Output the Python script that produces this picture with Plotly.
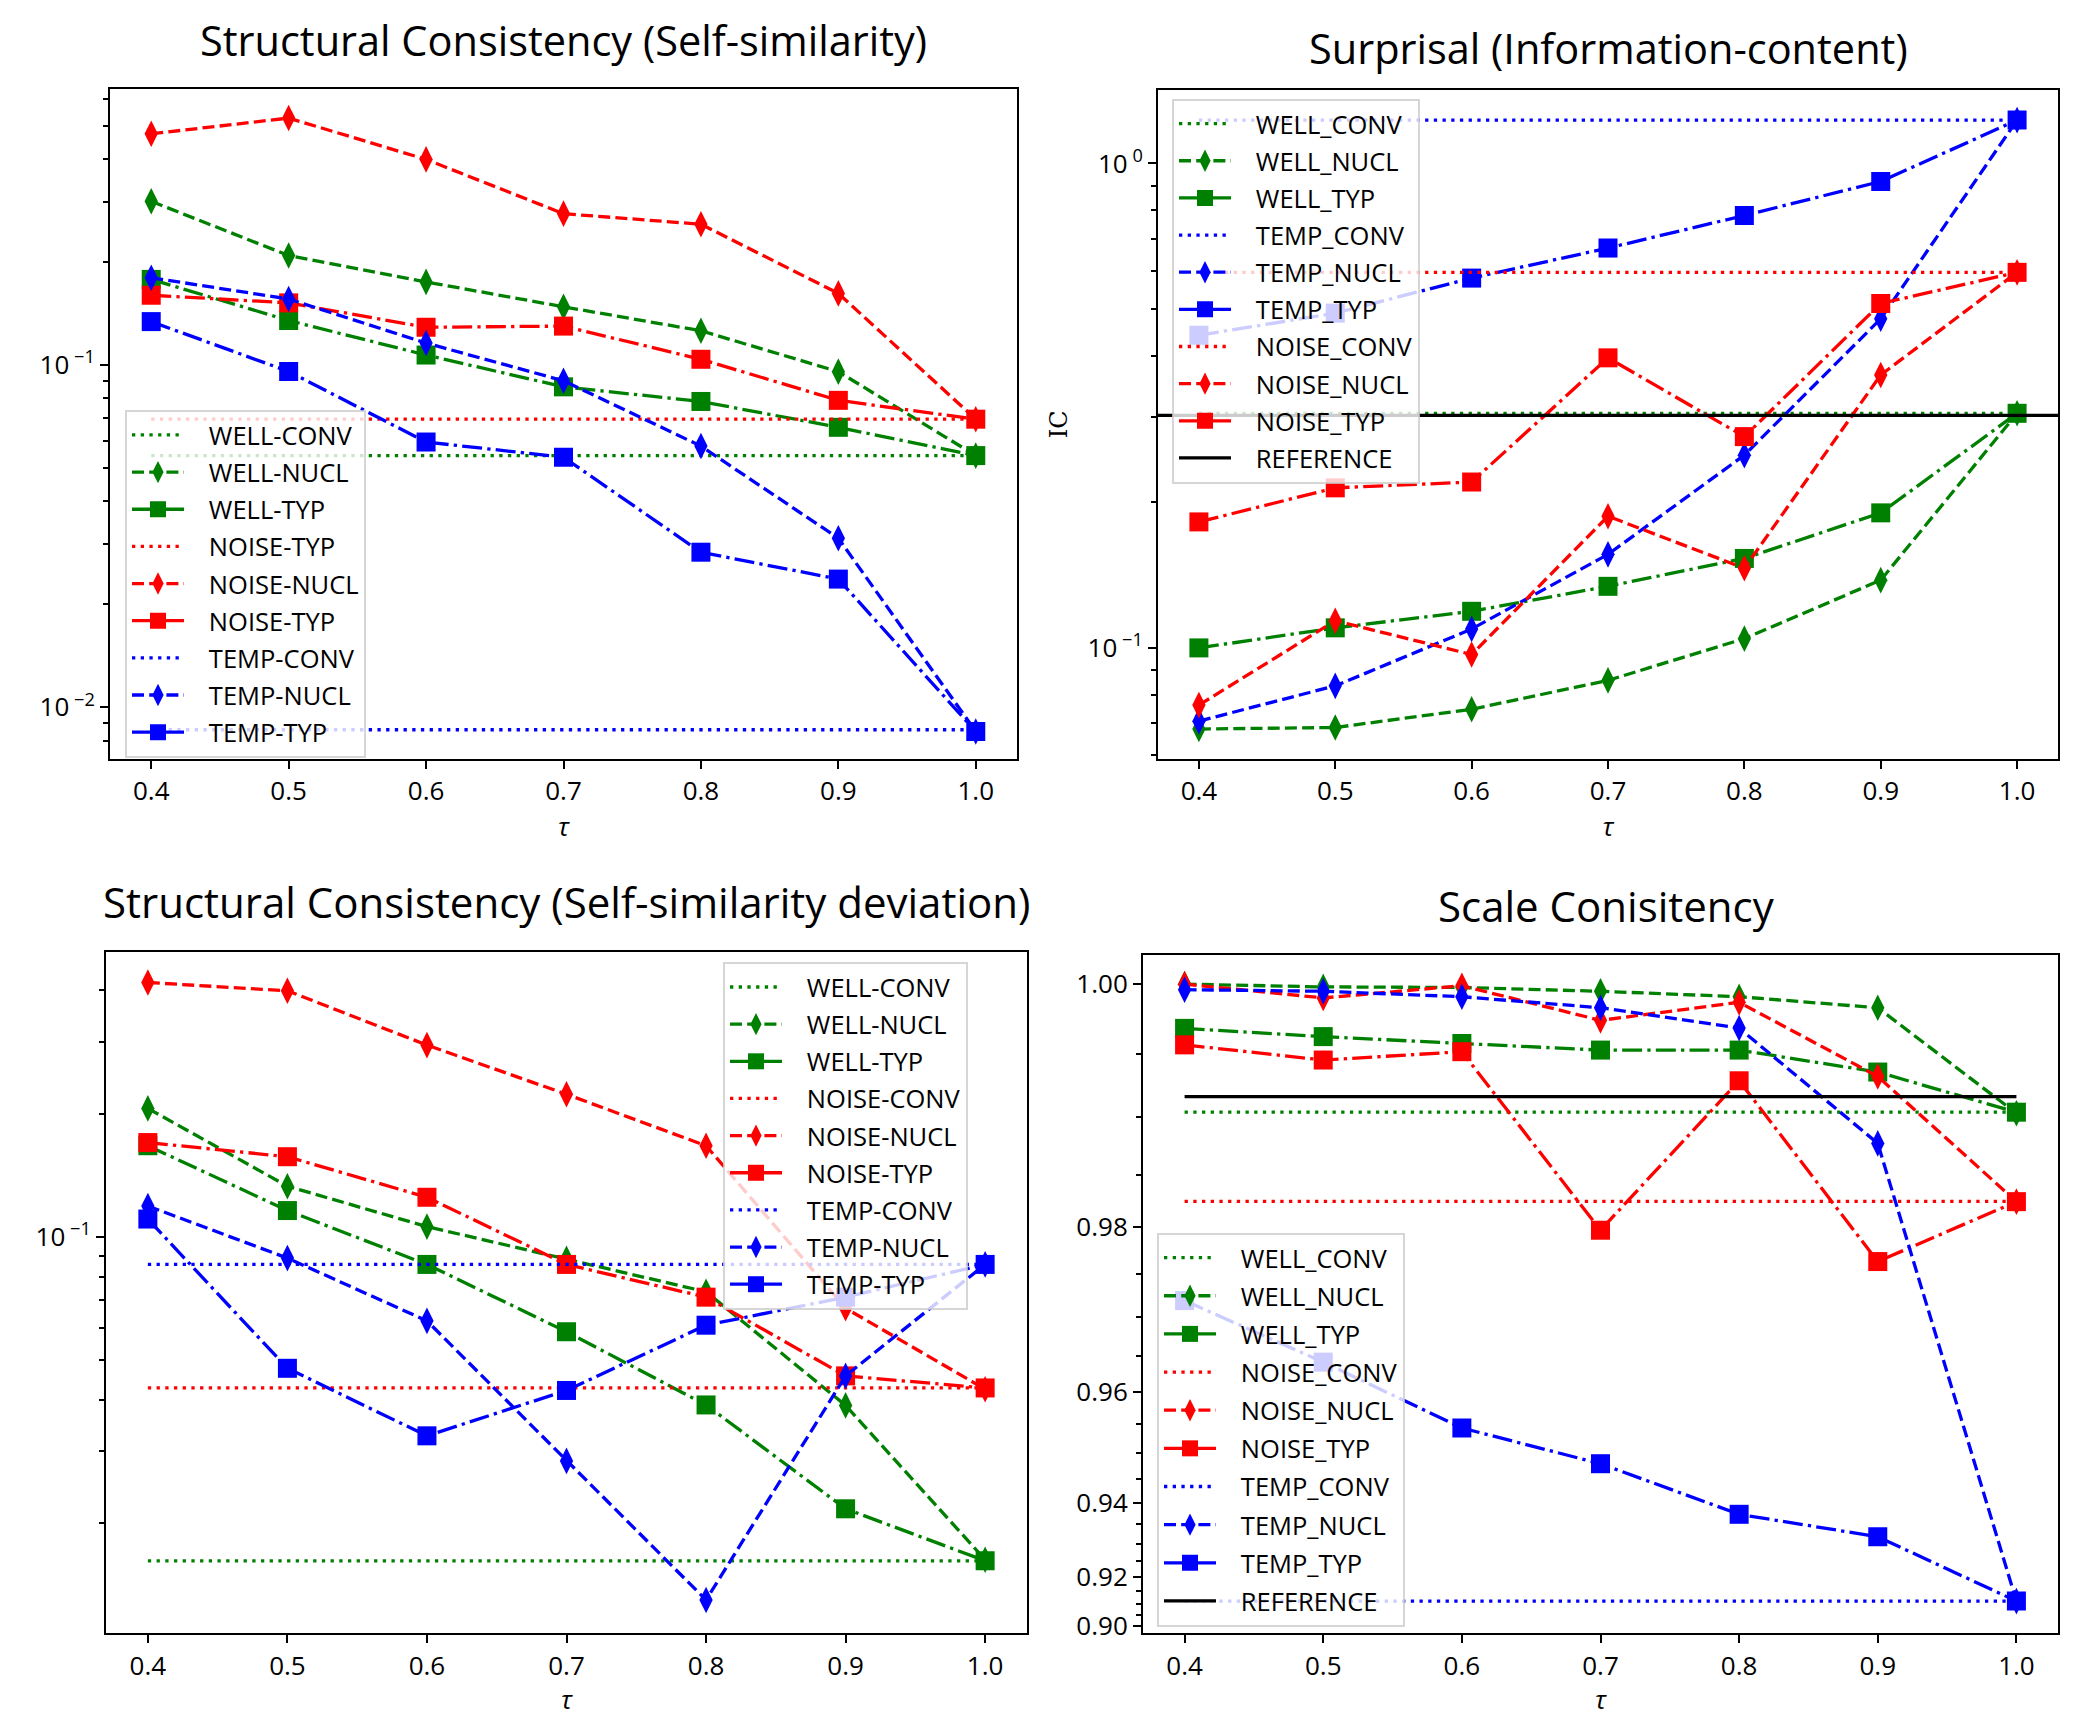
import plotly.graph_objects as go

# ---------------- data ----------------
TAU = [0.4, 0.5, 0.6, 0.7, 0.8, 0.9, 1.0]
TAU_LABELS = ["0.4", "0.5", "0.6", "0.7", "0.8", "0.9", "1.0"]

# Panel 1: Structural Consistency (Self-similarity)
tl_well_conv = 0.0544
tl_well_nucl = [0.301, 0.209, 0.175, 0.148, 0.126, 0.0957, 0.0544]
tl_well_typ = [0.178, 0.135, 0.107, 0.0864, 0.0783, 0.0658, 0.0544]
tl_noise_conv = 0.0695
tl_noise_nucl = [0.474, 0.527, 0.399, 0.277, 0.258, 0.162, 0.0695]
tl_noise_typ = [0.160, 0.152, 0.129, 0.130, 0.104, 0.0789, 0.0695]
tl_temp_conv = 0.0086
tl_temp_nucl = [0.180, 0.156, 0.116, 0.090, 0.058, 0.0312, 0.0085]
tl_temp_typ = [0.134, 0.0958, 0.0596, 0.0538, 0.0284, 0.0237, 0.0085]

# Panel 2: Surprisal (Information-content)
tr_well_conv = 0.305
tr_well_nucl = [0.068, 0.0685, 0.0747, 0.0857, 0.1045, 0.138, 0.305]
tr_well_typ = [0.100, 0.110, 0.119, 0.134, 0.153, 0.190, 0.305]
tr_temp_conv = 1.229
tr_temp_nucl = [0.0706, 0.0835, 0.1094, 0.156, 0.250, 0.478, 1.229]
tr_temp_typ = [0.442, 0.491, 0.580, 0.669, 0.781, 0.918, 1.229]
tr_noise_conv = 0.596
tr_noise_nucl = [0.0762, 0.1138, 0.0969, 0.187, 0.146, 0.366, 0.596]
tr_noise_typ = [0.182, 0.214, 0.220, 0.397, 0.273, 0.514, 0.596]
tr_reference = 0.302

# Panel 3: Structural Consistency (Self-similarity deviation)
bl_well_conv = 0.0162
bl_well_nucl = [0.206, 0.133, 0.106, 0.0884, 0.0735, 0.0388, 0.0163]
bl_well_typ = [0.167, 0.116, 0.0857, 0.0587, 0.0389, 0.0217, 0.0162]
bl_noise_conv = 0.0428
bl_noise_nucl = [0.418, 0.399, 0.294, 0.223, 0.167, 0.067, 0.0425]
bl_noise_typ = [0.170, 0.157, 0.125, 0.0857, 0.0713, 0.0458, 0.0428]
bl_temp_conv = 0.0857
bl_temp_nucl = [0.119, 0.0888, 0.0624, 0.0284, 0.0130, 0.0458, 0.0857]
bl_temp_typ = [0.1106, 0.0478, 0.0327, 0.0422, 0.0609, 0.0713, 0.0857]

# Panel 4: Scale Conisitency
br_well_conv = 0.99042
br_well_nucl = [1.000, 0.99981, 0.99977, 0.99951, 0.99913, 0.99836, 0.99032]
br_well_typ = [0.99688, 0.99628, 0.99577, 0.99528, 0.99528, 0.99361, 0.99041]
br_noise_conv = 0.98250
br_noise_nucl = [1.000, 0.99905, 0.99989, 0.99746, 0.99874, 0.99327, 0.98248]
br_noise_typ = [0.99567, 0.99453, 0.99516, 0.97967, 0.99293, 0.97640, 0.98248]
br_temp_conv = 0.9111
br_temp_nucl = [0.99962, 0.99951, 0.99913, 0.99836, 0.99690, 0.98778, 0.91112]
br_temp_typ = [0.97201, 0.96422, 0.95430, 0.94797, 0.93736, 0.93180, 0.91112]
br_reference = 0.99168

BR_TICKS = [0.90, 0.92, 0.94, 0.96, 0.98, 1.00]
BR_TICK_LABELS = ["0.90", "0.92", "0.94", "0.96", "0.98", "1.00"]
BR_MINOR = [0.905, 0.91, 0.915, 0.925, 0.93, 0.935, 0.945, 0.95, 0.955,
            0.965, 0.97, 0.975, 0.985, 0.99, 0.995]

# ---------------- styling ----------------
FONT = "Open Sans"
GREEN, RED, BLUE = "#008000", "#ff0000", "#0000ff"
LW = 3.3
DASH = {"conv": "3.3px,5.4px", "nucl": "12px,5.2px", "typ": "20px,5.2px,3.3px,5.2px", "ref": "solid"}
SYM = {"nucl": "diamond-tall", "typ": "square"}
MSIZE = {"nucl": 19, "typ": 19}
LEGEND_PAD = "\u00a0\u00a0\u00a0"   # gap between legend handle and label


def power_scale(v):
    # the reference's "Scale Consistency" axis uses a y**20 scale
    return v ** 20


fig = go.Figure()
counter = [0]


def add(ax, legend, name, y, color, kind, xs=None, transform=None):
    counter[0] += 1
    xs = TAU if xs is None else xs
    if not isinstance(y, (list, tuple)):
        y = [y] * len(xs)
    if transform:
        y = [transform(v) for v in y]
    mode = "lines+markers" if kind in ("nucl", "typ") else "lines"
    tr = dict(
        x=xs, y=y, name=LEGEND_PAD + name, mode=mode,
        line=dict(color=color, width=LW, dash=DASH[kind]),
        xaxis="x" + ax, yaxis="y" + ax,
        legend=legend, legendgroup="g%d" % counter[0],
        hoverinfo="skip",
    )
    if mode == "lines+markers":
        tr["marker"] = dict(symbol=SYM[kind], size=MSIZE[kind], color=color,
                            line=dict(width=0))
    fig.add_trace(go.Scatter(**tr))


# Panel 1
for name, y, c, k in [
    ("WELL-CONV", tl_well_conv, GREEN, "conv"),
    ("WELL-NUCL", tl_well_nucl, GREEN, "nucl"),
    ("WELL-TYP", tl_well_typ, GREEN, "typ"),
    ("NOISE-TYP", tl_noise_conv, RED, "conv"),
    ("NOISE-NUCL", tl_noise_nucl, RED, "nucl"),
    ("NOISE-TYP", tl_noise_typ, RED, "typ"),
    ("TEMP-CONV", tl_temp_conv, BLUE, "conv"),
    ("TEMP-NUCL", tl_temp_nucl, BLUE, "nucl"),
    ("TEMP-TYP", tl_temp_typ, BLUE, "typ"),
]:
    add("", "legend", name, y, c, k)

X_RANGE = [0.37, 1.03]

# Panel 2
for name, y, c, k in [
    ("WELL_CONV", tr_well_conv, GREEN, "conv"),
    ("WELL_NUCL", tr_well_nucl, GREEN, "nucl"),
    ("WELL_TYP", tr_well_typ, GREEN, "typ"),
    ("TEMP_CONV", tr_temp_conv, BLUE, "conv"),
    ("TEMP_NUCL", tr_temp_nucl, BLUE, "nucl"),
    ("TEMP_TYP", tr_temp_typ, BLUE, "typ"),
    ("NOISE_CONV", tr_noise_conv, RED, "conv"),
    ("NOISE_NUCL", tr_noise_nucl, RED, "nucl"),
    ("NOISE_TYP", tr_noise_typ, RED, "typ"),
]:
    add("2", "legend2", name, y, c, k)
add("2", "legend2", "REFERENCE", tr_reference, "black", "ref", xs=X_RANGE)

# Panel 3
for name, y, c, k in [
    ("WELL-CONV", bl_well_conv, GREEN, "conv"),
    ("WELL-NUCL", bl_well_nucl, GREEN, "nucl"),
    ("WELL-TYP", bl_well_typ, GREEN, "typ"),
    ("NOISE-CONV", bl_noise_conv, RED, "conv"),
    ("NOISE-NUCL", bl_noise_nucl, RED, "nucl"),
    ("NOISE-TYP", bl_noise_typ, RED, "typ"),
    ("TEMP-CONV", bl_temp_conv, BLUE, "conv"),
    ("TEMP-NUCL", bl_temp_nucl, BLUE, "nucl"),
    ("TEMP-TYP", bl_temp_typ, BLUE, "typ"),
]:
    add("3", "legend3", name, y, c, k)

# Panel 4
for name, y, c, k in [
    ("WELL_CONV", br_well_conv, GREEN, "conv"),
    ("WELL_NUCL", br_well_nucl, GREEN, "nucl"),
    ("WELL_TYP", br_well_typ, GREEN, "typ"),
    ("NOISE_CONV", br_noise_conv, RED, "conv"),
    ("NOISE_NUCL", br_noise_nucl, RED, "nucl"),
    ("NOISE_TYP", br_noise_typ, RED, "typ"),
    ("TEMP_CONV", br_temp_conv, BLUE, "conv"),
    ("TEMP_NUCL", br_temp_nucl, BLUE, "nucl"),
    ("TEMP_TYP", br_temp_typ, BLUE, "typ"),
]:
    add("4", "legend4", name, y, c, k, transform=power_scale)
add("4", "legend4", "REFERENCE", br_reference, "black", "ref", transform=power_scale)

# ---------------- layout ----------------
# the html page puts the figure 8px from the top-left corner of the window
OFF = 8
W, H = 2082 - OFF, 1717 - OFF


def px(x):
    return (x - OFF) / W


def py(y):
    return 1 - (y - OFF) / H


tick_font = dict(family=FONT, size=26, color="black")


def xaxis(domain, anchor):
    return dict(
        domain=domain, anchor=anchor, range=X_RANGE,
        tickmode="array", tickvals=TAU, ticktext=TAU_LABELS,
        ticks="outside", ticklen=8, tickwidth=2, tickcolor="black",
        showline=True, linecolor="black", linewidth=2, mirror=True,
        showgrid=False, zeroline=False, tickfont=tick_font,
        title=dict(text="<i>τ</i>", font=dict(family=FONT, size=26, color="black"), standoff=2),
    )


def logminor(vals):
    return dict(tickmode="array", tickvals=vals, ticks="outside", ticklen=5,
                tickwidth=1.5, tickcolor="black", showgrid=False)


def yaxis(domain, anchor, **kw):
    d = dict(
        domain=domain, anchor=anchor,
        ticks="outside", ticklen=8, tickwidth=2, tickcolor="black",
        showline=True, linecolor="black", linewidth=2, mirror=True,
        showgrid=False, zeroline=False, tickfont=tick_font,
    )
    d.update(kw)
    return d


def pow10(e):
    return "10<sup> −%d</sup>" % -e if e < 0 else "10<sup> %d</sup>" % e


dec = [2, 3, 4, 5, 6, 7, 8, 9]
fig.update_layout(
    width=W, height=H, margin=dict(l=0, r=0, t=0, b=0),
    paper_bgcolor="white", plot_bgcolor="white",
    font=dict(family=FONT, color="black"),
    xaxis=xaxis([px(110), px(1017)], "y"),
    yaxis=yaxis([py(763), py(89)], "x", type="log", range=[-2.151, -0.192],
                tickmode="array", tickvals=[0.01, 0.1],
                ticktext=[pow10(-2), pow10(-1)],
                minor=logminor([0.008, 0.009] + [d * 0.01 for d in dec] + [d * 0.1 for d in dec[:5]])),
    xaxis2=xaxis([px(1158), px(2058)], "y2"),
    yaxis2=yaxis([py(763), py(90)], "x2", type="log", range=[-1.2294, 0.1526],
                 tickmode="array", tickvals=[0.1, 1],
                 ticktext=[pow10(-1), pow10(0)],
                 title=dict(text="IC", font=dict(family="DejaVu Serif", size=24, color="black"), standoff=13),
                 minor=logminor([d * 0.01 for d in dec[4:]] + [d * 0.1 for d in dec])),
    xaxis3=xaxis([px(106), px(1027)], "y3"),
    yaxis3=yaxis([py(1642), py(957)], "x3", type="log", range=[-1.9677, -0.3044],
                 tickmode="array", tickvals=[0.1], ticktext=[pow10(-1)],
                 minor=logminor([d * 0.01 for d in dec] + [d * 0.1 for d in dec[:3]])),
    xaxis4=xaxis([px(1143), px(2058)], "y4"),
    yaxis4=yaxis([py(1642), py(960)], "x4", range=[0.1112, 1.0399],
                 tickmode="array", tickvals=[power_scale(t) for t in BR_TICKS],
                 ticktext=BR_TICK_LABELS,
                 minor=logminor([power_scale(t) for t in BR_MINOR])),
)

legend_common = dict(
    xanchor="left", yanchor="top",
    bgcolor="rgba(255,255,255,0.8)", bordercolor="rgba(204,204,204,0.8)", borderwidth=2,
    font=dict(family=FONT, size=25.5, color="black"),
    traceorder="grouped", itemwidth=52,
)
fig.update_layout(
    legend=dict(x=px(125), y=py(412), tracegroupgap=1, **legend_common),
    legend2=dict(x=px(1172), y=py(99), tracegroupgap=1, **legend_common),
    legend3=dict(x=px(723), y=py(967), tracegroupgap=1, **legend_common),
    legend4=dict(x=px(1157), y=py(1239), tracegroupgap=2, **legend_common),
)

for text, x, y, size in [
    ("Structural Consistency (Self-similarity)", 563, 40, 41.5),
    ("Surprisal (Information-content)", 1608, 48, 41.5),
    ("Structural Consistency (Self-similarity deviation)", 566, 906, 42),
    ("Scale Conisitency", 1606, 910, 42),
]:
    fig.add_annotation(text=text, x=px(x), y=py(y), xref="paper", yref="paper",
                       xanchor="center", yanchor="middle", showarrow=False,
                       font=dict(family=FONT, size=size, color="black"))

fig.write_html("out.html")
